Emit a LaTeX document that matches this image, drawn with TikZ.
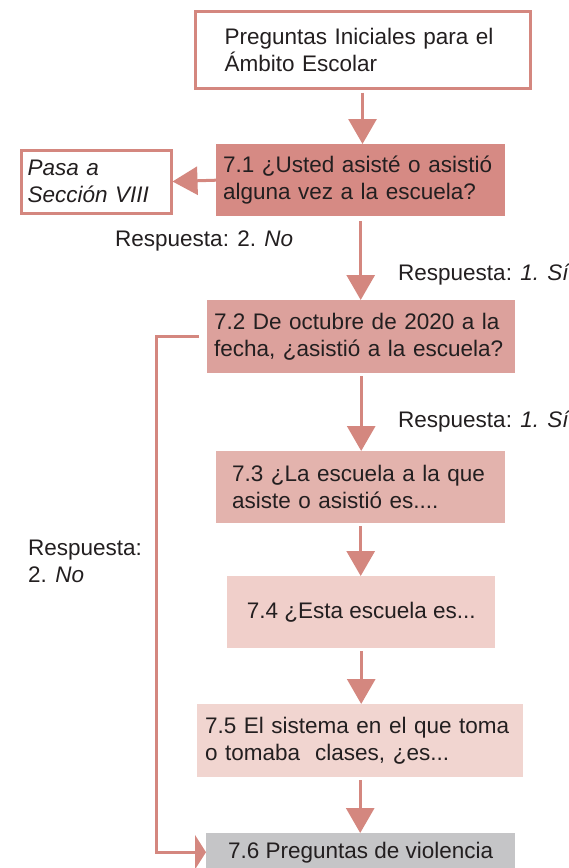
\documentclass[tikz,border=0pt]{standalone}
\usepackage{fontspec}
\setmainfont{Liberation Sans}
\usetikzlibrary{arrows.meta}
\definecolor{rosaline}{RGB}{212,135,127}
\definecolor{rosaA}{RGB}{214,138,132}
\definecolor{rosaB}{RGB}{220,161,156}
\definecolor{rosaC}{RGB}{227,179,173}
\definecolor{rosaD}{RGB}{240,207,202}
\definecolor{rosaE}{RGB}{241,213,208}
\definecolor{grisF}{RGB}{197,197,199}
\definecolor{texto}{RGB}{35,31,32}

\begin{document}
\begin{tikzpicture}[x=1pt, y=-1pt, every node/.style={font=\fontsize{22.5}{27}\selectfont, text=texto},
	qbox/.style={rectangle, anchor=north west, align=left, inner ysep=0pt},
	flow/.style={draw=rosaline, line width=3pt, shorten <=3pt, -{Triangle[length=25pt, width=28pt]}},
	lab/.style={anchor=west, inner sep=0pt, align=left}]
	\useasboundingbox (0,0) rectangle (568,868);
	\node[qbox, draw=rosaline, line width=3pt, fill=white, text width=276pt, inner xsep=29.5pt, minimum height=77pt] (ini) at (193.5,9.5) {Preguntas Iniciales para el\\Ámbito Escolar};
	\node[qbox, draw=rosaline, line width=3pt, fill=white, text width=137pt, inner xsep=6.5pt, minimum height=63pt] (pasa) at (19.5,148.5) {\textit{Pasa a}\\\textit{Sección VIII}};
	\node[qbox, fill=rosaA, text width=275pt, inner xsep=7pt, minimum height=72pt] (q71) at (216,144) {7.1 ¿Usted asisté o asistió\\alguna vez a la escuela?};
	\node[qbox, fill=rosaB, text width=294pt, inner xsep=7pt, minimum height=73pt] (q72) at (207,300) {7.2 De octubre de 2020 a la\\fecha, ¿asistió a la escuela?};
	\node[qbox, fill=rosaC, text width=257pt, inner xsep=16pt, minimum height=72pt] (q73) at (216,451) {7.3 ¿La escuela a la que\\asiste o asistió es....};
	\node[qbox, fill=rosaD, minimum width=268pt, minimum height=72pt] (q74) at (227,576) {7.4 ¿Esta escuela es...};
	\node[qbox, fill=rosaE, text width=310pt, inner xsep=8pt, minimum height=73pt] (q75) at (197,704) {7.5 El sistema en el que toma\\o tomaba\ \ clases, ¿es...};
	\node[qbox, fill=grisF, minimum width=309pt, minimum height=38pt] (q76) at (206,833) {7.6 Preguntas de violencia};
	\node[lab] (no1) at (115,241) {Respuesta: 2. \textit{No}};
	\node[lab] (si1) at (398,275) {Respuesta: \textit{1. Sí}};
	\node[lab] (si2) at (398,422) {Respuesta: \textit{1. Sí}};
	\node[lab] (no2) at (28,561) {Respuesta:\\2. \textit{No}};
	\draw[flow] (ini.south) -- (ini.south |- q71.north);
	\draw[flow, shorten <=0pt] (q71.west) -- (pasa.east);
	\draw[flow, shorten <=5pt] (q71.south) -- (q71.south |- q72.north);
	\draw[flow] (q72.south) -- (q72.south |- q73.north);
	\draw[flow] (q73.south) -- (q73.south |- q74.north);
	\draw[flow] (q74.south) -- (q74.south |- q75.north);
	\draw[flow] (q75.south) -- (q75.south |- q76.north);
	\draw[flow, shorten <=8pt, -{Triangle[length=11pt, width=34pt]}] (q72.west) -- ++(-51,0) |- (q76.west);
\end{tikzpicture}
\end{document}
